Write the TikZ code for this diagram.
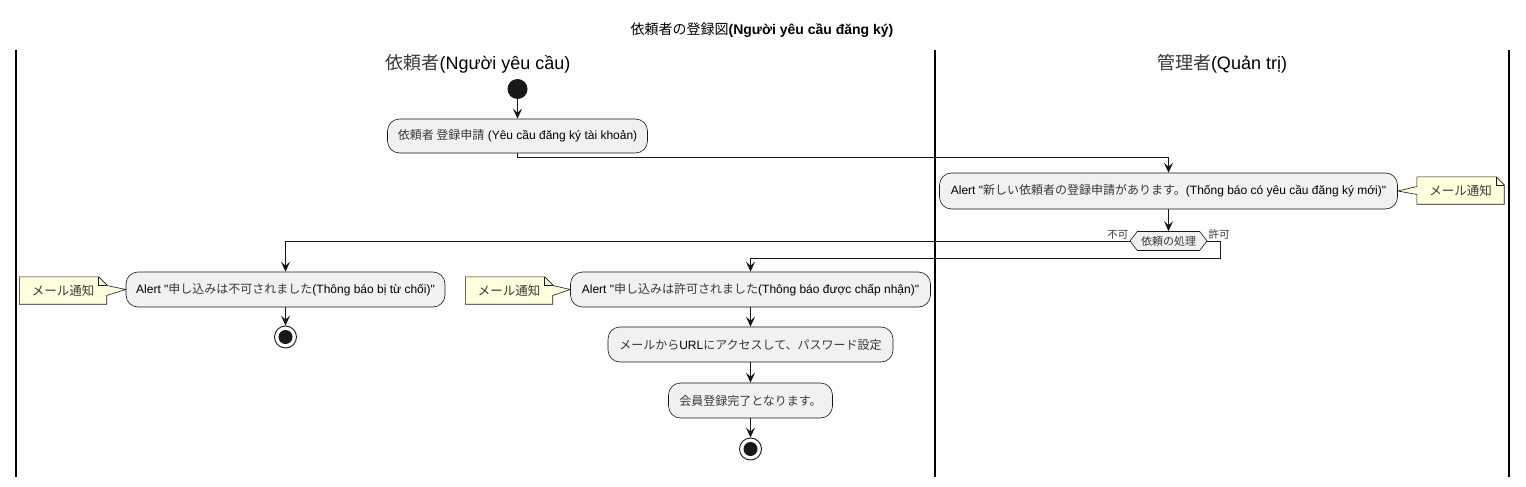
\documentclass[tikz,border=0pt]{standalone}
\usepackage{fontspec}
\setmainfont{Liberation Sans}[Ligatures=TeXOff]
\newfontfamily\jpf{Noto Sans CJK JP}
\newcommand{\jp}[1]{{\jpf\color{black!78}#1}}
\usetikzlibrary{arrows.meta,shapes.symbols,calc}
\definecolor{actfill}{HTML}{F1F1F1}
\definecolor{notefill}{HTML}{FEFFDD}
\definecolor{ln}{HTML}{181818}
\begin{document}
\begin{tikzpicture}[x=1pt,y=-1pt,
  act/.style={draw=ln, line width=0.6pt, fill=actfill, rounded corners=12pt, inner sep=0pt, align=center, font=\fontsize{12}{14}\selectfont},
  arr/.style={draw=ln, line width=0.9pt, -{Stealth[length=10pt,width=9pt,inset=4pt]}},
  notetxt/.style={inner sep=0pt, minimum width=87pt, minimum height=27pt, font=\fontsize{12.5}{14}\selectfont},
  noteline/.style={draw=ln, line width=0.6pt, fill=notefill},
  lane/.style={draw=black, line width=2pt},
  startc/.style={circle, fill=ln, minimum size=20pt, inner sep=0pt},
  endc/.style={circle, draw=ln, fill=white, line width=0.9pt, minimum size=22pt, inner sep=0pt},
  lbl/.style={inner sep=0pt, font=\fontsize{10.5}{12}\selectfont}
]
\useasboundingbox (0,0) rectangle (1526,487);
\fill[white] (0,0) rectangle (1526,487);

% title
\node[font=\fontsize{14}{16}\selectfont\bfseries] (title) at (762,30) {{\jpf\mdseries 依頼者の登録図}(Người yêu cầu đăng ký)};

% lanes
\coordinate (l1t) at (15.5,50); \coordinate (l1b) at (15.5,477);
\coordinate (l2t) at (934.5,50); \coordinate (l2b) at (934.5,477);
\coordinate (l3t) at (1508.5,50); \coordinate (l3b) at (1508.5,477);
\draw[lane] (l1t) -- (l1b);
\draw[lane] (l2t) -- (l2b);
\draw[lane] (l3t) -- (l3b);
\node[font=\fontsize{18}{20}\selectfont] (h1) at (478,64) {\jp{依頼者}(Người yêu cầu)};
\node[font=\fontsize{18}{20}\selectfont] (h2) at (1222,64) {\jp{管理者}(Quản trị)};

% nodes
\node[startc] (start) at (517.5,89) {};
\node[act, minimum width=260pt, minimum height=34pt] (b1) at (517.5,136) {\jp{依頼者 登録申請} (Yêu cầu đăng ký tài khoản)};
\node[act, minimum width=458pt, minimum height=36pt] (b2) at (1168.5,191) {Alert "\jp{新しい依頼者の登録申請があります。}(Thống báo có yêu cầu đăng ký mới)"};
\node[signal, signal to=east and west, signal pointer angle=105, draw=ln, line width=0.6pt, fill=actfill, minimum width=77pt, minimum height=19pt, inner sep=0pt, font=\fontsize{11}{12}\selectfont] (dec) at (1168.5,241) {\jp{依頼の処理}};
\node[lbl, anchor=south east] (no) at ($(dec.west)+(-1,-1)$) {\jp{不可}};
\node[lbl, anchor=south west] (yes) at ($(dec.east)+(1,-1)$) {\jp{許可}};

\node[act, minimum width=319pt, minimum height=35pt] (b3) at (285.5,289.5) {Alert "\jp{申し込みは不可されました}(Thông báo bị từ chối)"};
\node[endc] (e1) at (285.5,337) {};
\fill[ln] (e1.center) circle (7);

\node[act, minimum width=360pt, minimum height=35pt] (b4) at (750.5,289.5) {Alert "\jp{申し込みは許可されました}(Thông báo được chấp nhận)"};
\node[act, minimum width=285pt, minimum height=35pt] (b5) at (750.5,344.5) {\jp{メールから}URL\jp{にアクセスして、パスワード設定}};
\node[act, minimum width=164pt, minimum height=35pt] (b6) at (750.5,400.5) {\jp{会員登録完了となります。}};
\node[endc] (e2) at (750.5,449) {};
\fill[ln] (e2.center) circle (7);

% notes
\node[notetxt] (n2) at (1460.5,190.5) {};
\draw[noteline] (n2.north west) -- ($(n2.north east)+(-8,0)$) -- ($(n2.north east)+(0,8)$) -- (n2.south east) -- (n2.south west) -- ($(n2.west)+(0,4)$) -- (b2.east) -- ($(n2.west)+(0,-4)$) -- cycle;
\draw[ln, line width=0.6pt] ($(n2.north east)+(-8,0)$) -- ++(0,8) -- ++(8,0);
\node[notetxt] at (n2) {\jp{メール通知}};

\node[notetxt] (n3) at (63,290.5) {};
\draw[noteline] (n3.north west) -- ($(n3.north east)+(-8,0)$) -- ($(n3.north east)+(0,8)$) -- ($(n3.east)+(0,-5)$) -- (b3.west) -- ($(n3.east)+(0,5)$) -- (n3.south east) -- (n3.south west) -- cycle;
\draw[ln, line width=0.6pt] ($(n3.north east)+(-8,0)$) -- ++(0,8) -- ++(8,0);
\node[notetxt] at (n3) {\jp{メール通知}};

\node[notetxt] (n4) at (509,290.5) {};
\draw[noteline] (n4.north west) -- ($(n4.north east)+(-8,0)$) -- ($(n4.north east)+(0,8)$) -- ($(n4.east)+(0,-5)$) -- (b4.west) -- ($(n4.east)+(0,5)$) -- (n4.south east) -- (n4.south west) -- cycle;
\draw[ln, line width=0.6pt] ($(n4.north east)+(-8,0)$) -- ++(0,8) -- ++(8,0);
\node[notetxt] at (n4) {\jp{メール通知}};

% connectors
\draw[arr] (start) -- (b1);
\draw[arr] (b1.south) -- ++(0,4) -| (b2.north);
\draw[arr] (b2.south) -- (dec.north);
\draw[arr] (dec.west) -| (b3.north);
\draw[arr] (dec.east) -- ++(13,0) -- ++(0,17) -| (b4.north);
\draw[arr] (b3.south) -- (e1);
\draw[arr] (b4.south) -- (b5.north);
\draw[arr] (b5.south) -- (b6.north);
\draw[arr] (b6.south) -- (e2);
\end{tikzpicture}
\end{document}
